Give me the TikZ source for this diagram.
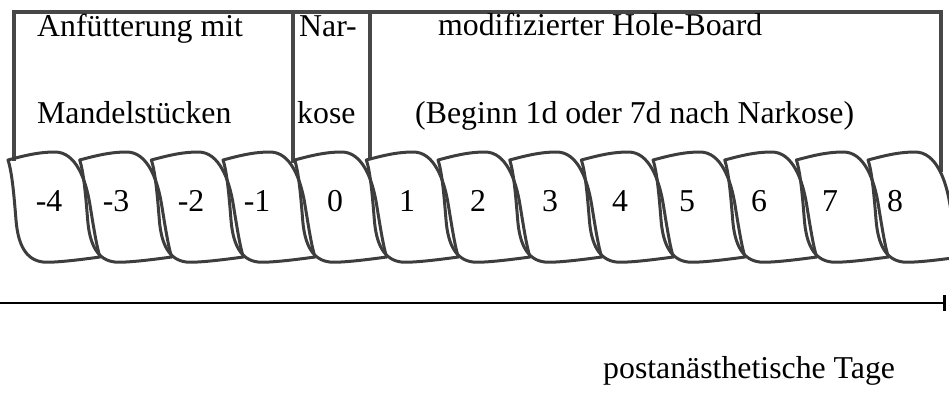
\documentclass[tikz,border=0pt]{standalone}
\usepackage{fontspec}
\setmainfont{Liberation Serif}
\usetikzlibrary{arrows.meta}
\begin{document}
\begin{tikzpicture}[x=1pt,y=-1pt,
  frame/.style={draw=black!72, line width=3.2pt},
  lobe/.style={draw=black!76, line width=3pt, line join=round},
  txt/.style={inner sep=0pt, anchor=base west, font=\fontsize{31.8}{38}\selectfont},
  num/.style={inner sep=0pt, anchor=base, font=\fontsize{31.8}{38}\selectfont},
  axis/.style={draw=black, line width=2.8pt, -{Bar[width=16pt,line width=3.5pt]}}]
\useasboundingbox (0,0) rectangle (949,394);

% phase boxes above the day row
\draw[frame] (14,161) -- (14,12) -- (941,12) -- (941,172);
\draw[frame] (293,12) -- (293,163);
\draw[frame] (370,12) -- (370,159);

% one lobe per day, drawn left to right
\foreach \i in {0,...,12}{
  \draw[lobe, shift={(8+71.67*\i,160)}]
    (0,0) .. controls (15,-4) and (30,-8) .. (47,-8)
    .. controls (68,-8) and (78,20) .. (82,45)
    .. controls (86,70) and (89,88) .. (92,97)
    .. controls (70,100) and (45,103) .. (35,102)
    .. controls (18,100) and (10,85) .. (8,60)
    .. controls (6,35) and (4,12) .. (0,0) -- cycle;
}

% day numbers
\node[num] (dm4) at (49,211) {-4};
\node[num] (dm3) at (116,211) {-3};
\node[num] (dm2) at (191,211) {-2};
\node[num] (dm1) at (257,211) {-1};
\node[num] (d0) at (335,211) {0};
\node[num] (d1) at (407,211) {1};
\node[num] (d2) at (478,211) {2};
\node[num] (d3) at (550,211) {3};
\node[num] (d4) at (620,211) {4};
\node[num] (d5) at (687,211) {5};
\node[num] (d6) at (759,211) {6};
\node[num] (d7) at (830,211) {7};
\node[num] (d8) at (895,211) {8};

% phase labels
\node[txt] (feed1) at (37,36) {Anfütterung mit};
\node[txt] (feed2) at (37,123) {Mandelstücken};
\node[txt] (narc1) at (299,36) {Nar-};
\node[txt] (narc2) at (297,123) {kose};
\node[txt] (hb1) at (438,35) {modifizierter Hole-Board};
\node[txt] (hb2) at (415,123) {(Beginn 1d oder 7d nach Narkose)};

% time axis
\coordinate (t0) at (0,303);
\coordinate (t1) at (946,303);
\draw[axis] (t0) -- (t1);
\node[txt] (axlbl) at (603,378) {postanästhetische Tage};
\end{tikzpicture}
\end{document}
